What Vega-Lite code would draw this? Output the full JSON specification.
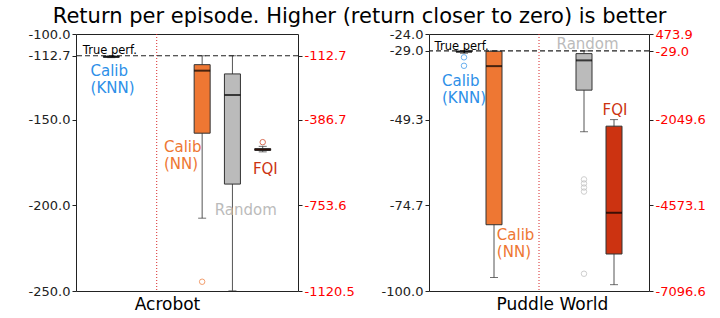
{
  "$schema": "https://vega.github.io/schema/vega-lite/v6.json",
  "padding": {"left": 27, "top": 5, "right": 5, "bottom": 0},
  "config": {"font": "DejaVu Sans", "view": {"stroke": "#222", "strokeWidth": 1}},
  "title": {"text": "Return per episode. Higher (return closer to zero) is better", "fontSize": 21, "fontWeight": "normal", "color": "#000", "anchor": "middle", "offset": 1, "dx": -7},
  "datasets": {
    "boxes": [
      {"env": "Acrobot", "side": "left", "method": "Calib (KNN)", "pos": 1, "lo": -113.8, "q1": -113.5, "med": -113.3, "q3": -113.0, "hi": -112.8},
      {"env": "Acrobot", "side": "left", "method": "Calib (NN)", "pos": 4, "lo": -207.5, "q1": -157.9, "med": -121.4, "q3": -117.9, "hi": -112.7},
      {"env": "Acrobot", "side": "left", "method": "Random", "pos": 5, "lo": -249.9, "q1": -187.6, "med": -135.6, "q3": -123.3, "hi": -112.7},
      {"env": "Acrobot", "side": "right", "method": "FQI", "pos": 6, "lo": -524.4, "q1": -518.0, "med": -514.5, "q3": -510.7, "hi": -500.8},
      {"env": "Puddle World", "side": "left", "method": "Calib (KNN)", "pos": 1, "lo": -29.7, "q1": -29.3, "med": -29.2, "q3": -29.1, "hi": -29.0},
      {"env": "Puddle World", "side": "left", "method": "Calib (NN)", "pos": 2, "lo": -96.0, "q1": -80.4, "med": -33.5, "q3": -29.1, "hi": -29.0},
      {"env": "Puddle World", "side": "left", "method": "Random", "pos": 5, "lo": -52.9, "q1": -40.6, "med": -31.8, "q3": -29.8, "hi": -29.0},
      {"env": "Puddle World", "side": "right", "method": "FQI", "pos": 6, "lo": -6910, "q1": -6007, "med": -4792, "q3": -2241, "hi": -2047.5}
    ],
    "outliers": [
      {"env": "Acrobot", "side": "left", "method": "Calib (NN)", "pos": 4, "v": -244.6},
      {"env": "Acrobot", "side": "right", "method": "FQI", "pos": 6, "v": -482.9},
      {"env": "Puddle World", "side": "left", "method": "Calib (KNN)", "pos": 1, "v": -30.9},
      {"env": "Puddle World", "side": "left", "method": "Calib (KNN)", "pos": 1, "v": -33.4},
      {"env": "Puddle World", "side": "left", "method": "Random", "pos": 5, "v": -67.0},
      {"env": "Puddle World", "side": "left", "method": "Random", "pos": 5, "v": -68.2},
      {"env": "Puddle World", "side": "left", "method": "Random", "pos": 5, "v": -69.4},
      {"env": "Puddle World", "side": "left", "method": "Random", "pos": 5, "v": -70.6},
      {"env": "Puddle World", "side": "left", "method": "Random", "pos": 5, "v": -94.9}
    ],
    "labels": [
      {"env": "Acrobot", "method": "Calib (KNN)", "pos": 0.315, "v": -124.7, "t": ["Calib", "(KNN)"]},
      {"env": "Acrobot", "method": "Calib (NN)", "pos": 2.74, "v": -168.6, "t": ["Calib", "(NN)"]},
      {"env": "Acrobot", "method": "Random", "pos": 4.415, "v": -205.9, "t": ["Random"]},
      {"env": "Acrobot", "method": "FQI", "pos": 5.676, "v": -181.6, "t": ["FQI"]},
      {"env": "Puddle World", "method": "Calib (KNN)", "pos": 0.267, "v": -39.27, "t": ["Calib", "(KNN)"]},
      {"env": "Puddle World", "method": "Calib (NN)", "pos": 2.095, "v": -84.84, "t": ["Calib", "(NN)"]},
      {"env": "Puddle World", "method": "Random", "pos": 4.085, "v": -28.43, "t": ["Random"]},
      {"env": "Puddle World", "method": "FQI", "pos": 5.62, "v": -47.83, "t": ["FQI"]}
    ],
    "refs": [
      {"env": "Acrobot", "truth": -112.7, "tx": 0.06, "ty": -111.7, "div": 2.5, "label": "True perf."},
      {"env": "Puddle World", "truth": -29.0, "tx": 0.02, "ty": -28.75, "div": 3.5, "label": "True perf."}
    ]
  },
  "hconcat": [
    {
      "width": 222, "height": 257,
      "resolve": {"scale": {"y": "independent"}},
      "layer": [
        {"layer": [
          {"data": {"name": "refs"}, "transform": [{"filter": "datum.env === 'Acrobot'"}],
           "mark": {"type": "rule", "color": "#d62728", "strokeDash": [1, 2], "strokeWidth": 1},
           "encoding": {"x": {"field": "div", "type": "quantitative", "scale": {"domain": [0, 7], "nice": false, "zero": false}, "axis": {"values": [2.84], "labelExpr": "'Acrobot'", "ticks": false, "domain": false, "grid": false, "title": null, "labelFontSize": 17, "labelColor": "#000", "labelPadding": 5, "labelFlush": false}}}},
          {"data": {"name": "boxes"}, "transform": [{"filter": "datum.env === 'Acrobot' && datum.side === 'left'"}],
           "mark": {"type": "rule", "color": "#555", "strokeWidth": 1},
           "encoding": {
             "x": {"field": "pos", "type": "quantitative", "scale": {"domain": [0, 7], "nice": false, "zero": false}, "axis": {"values": [2.84], "labelExpr": "'Acrobot'", "ticks": false, "domain": false, "grid": false, "title": null, "labelFontSize": 17, "labelColor": "#000", "labelPadding": 5, "labelFlush": false}},
             "y": {"field": "lo", "type": "quantitative", "scale": {"domain": [-250, -100], "nice": false, "zero": false}, "axis": {"orient": "left", "values": [-100, -112.7, -150, -200, -250], "labelExpr": "(datum.value < 0 ? '-' : '') + format(abs(datum.value), '.1f')", "title": null, "grid": false, "labelFontSize": 13, "labelColor": "#222", "tickColor": "#222", "tickSize": 4, "domain": false, "labelOverlap": false}},
             "y2": {"field": "hi"}}},
          {"data": {"name": "boxes"}, "transform": [{"filter": "datum.env === 'Acrobot' && datum.side === 'left'"}],
           "mark": {"type": "bar", "size": 16, "stroke": "#333", "strokeWidth": 1},
           "encoding": {
             "x": {"field": "pos", "type": "quantitative", "scale": {"domain": [0, 7], "nice": false, "zero": false}, "axis": {"values": [2.84], "labelExpr": "'Acrobot'", "ticks": false, "domain": false, "grid": false, "title": null, "labelFontSize": 17, "labelColor": "#000", "labelPadding": 5, "labelFlush": false}},
             "y": {"field": "q1", "type": "quantitative", "scale": {"domain": [-250, -100], "nice": false, "zero": false}, "axis": {"orient": "left", "values": [-100, -112.7, -150, -200, -250], "labelExpr": "(datum.value < 0 ? '-' : '') + format(abs(datum.value), '.1f')", "title": null, "grid": false, "labelFontSize": 13, "labelColor": "#222", "tickColor": "#222", "tickSize": 4, "domain": false, "labelOverlap": false}},
             "y2": {"field": "q3"},
             "fill": {"field": "method", "type": "nominal", "scale": {"domain": ["Calib (KNN)", "Calib (NN)", "Random", "FQI"], "range": ["#2D8FE8", "#EE7733", "#BBBBBB", "#CC3311"]}, "legend": null}}},
          {"data": {"name": "boxes"}, "transform": [{"filter": "datum.env === 'Acrobot' && datum.side === 'left'"}],
           "mark": {"type": "tick", "orient": "horizontal", "size": 8, "thickness": 1, "color": "#333"},
           "encoding": {
             "x": {"field": "pos", "type": "quantitative", "scale": {"domain": [0, 7], "nice": false, "zero": false}, "axis": {"values": [2.84], "labelExpr": "'Acrobot'", "ticks": false, "domain": false, "grid": false, "title": null, "labelFontSize": 17, "labelColor": "#000", "labelPadding": 5, "labelFlush": false}},
             "y": {"field": "lo", "type": "quantitative", "scale": {"domain": [-250, -100], "nice": false, "zero": false}, "axis": {"orient": "left", "values": [-100, -112.7, -150, -200, -250], "labelExpr": "(datum.value < 0 ? '-' : '') + format(abs(datum.value), '.1f')", "title": null, "grid": false, "labelFontSize": 13, "labelColor": "#222", "tickColor": "#222", "tickSize": 4, "domain": false, "labelOverlap": false}}}},
          {"data": {"name": "boxes"}, "transform": [{"filter": "datum.env === 'Acrobot' && datum.side === 'left'"}],
           "mark": {"type": "tick", "orient": "horizontal", "size": 8, "thickness": 1, "color": "#333"},
           "encoding": {
             "x": {"field": "pos", "type": "quantitative", "scale": {"domain": [0, 7], "nice": false, "zero": false}, "axis": {"values": [2.84], "labelExpr": "'Acrobot'", "ticks": false, "domain": false, "grid": false, "title": null, "labelFontSize": 17, "labelColor": "#000", "labelPadding": 5, "labelFlush": false}},
             "y": {"field": "hi", "type": "quantitative", "scale": {"domain": [-250, -100], "nice": false, "zero": false}, "axis": {"orient": "left", "values": [-100, -112.7, -150, -200, -250], "labelExpr": "(datum.value < 0 ? '-' : '') + format(abs(datum.value), '.1f')", "title": null, "grid": false, "labelFontSize": 13, "labelColor": "#222", "tickColor": "#222", "tickSize": 4, "domain": false, "labelOverlap": false}}}},
          {"data": {"name": "boxes"}, "transform": [{"filter": "datum.env === 'Acrobot' && datum.side === 'left'"}],
           "mark": {"type": "tick", "orient": "horizontal", "size": 16, "thickness": 2, "color": "#000"},
           "encoding": {
             "x": {"field": "pos", "type": "quantitative", "scale": {"domain": [0, 7], "nice": false, "zero": false}, "axis": {"values": [2.84], "labelExpr": "'Acrobot'", "ticks": false, "domain": false, "grid": false, "title": null, "labelFontSize": 17, "labelColor": "#000", "labelPadding": 5, "labelFlush": false}},
             "y": {"field": "med", "type": "quantitative", "scale": {"domain": [-250, -100], "nice": false, "zero": false}, "axis": {"orient": "left", "values": [-100, -112.7, -150, -200, -250], "labelExpr": "(datum.value < 0 ? '-' : '') + format(abs(datum.value), '.1f')", "title": null, "grid": false, "labelFontSize": 13, "labelColor": "#222", "tickColor": "#222", "tickSize": 4, "domain": false, "labelOverlap": false}}}},
          {"data": {"name": "outliers"}, "transform": [{"filter": "datum.env === 'Acrobot' && datum.side === 'left'"}],
           "mark": {"type": "point", "filled": false, "size": 30, "strokeWidth": 1},
           "encoding": {
             "x": {"field": "pos", "type": "quantitative", "scale": {"domain": [0, 7], "nice": false, "zero": false}, "axis": {"values": [2.84], "labelExpr": "'Acrobot'", "ticks": false, "domain": false, "grid": false, "title": null, "labelFontSize": 17, "labelColor": "#000", "labelPadding": 5, "labelFlush": false}},
             "y": {"field": "v", "type": "quantitative", "scale": {"domain": [-250, -100], "nice": false, "zero": false}, "axis": {"orient": "left", "values": [-100, -112.7, -150, -200, -250], "labelExpr": "(datum.value < 0 ? '-' : '') + format(abs(datum.value), '.1f')", "title": null, "grid": false, "labelFontSize": 13, "labelColor": "#222", "tickColor": "#222", "tickSize": 4, "domain": false, "labelOverlap": false}},
             "stroke": {"field": "method", "type": "nominal", "scale": {"domain": ["Calib (KNN)", "Calib (NN)", "Random", "FQI"], "range": ["#2D8FE8", "#EE7733", "#BBBBBB", "#CC3311"]}, "legend": null}}},
          {"data": {"name": "refs"}, "transform": [{"filter": "datum.env === 'Acrobot'"}],
           "mark": {"type": "rule", "color": "#222", "strokeDash": [5, 3], "strokeWidth": 1.2},
           "encoding": {"y": {"field": "truth", "type": "quantitative", "scale": {"domain": [-250, -100], "nice": false, "zero": false}, "axis": {"orient": "left", "values": [-100, -112.7, -150, -200, -250], "labelExpr": "(datum.value < 0 ? '-' : '') + format(abs(datum.value), '.1f')", "title": null, "grid": false, "labelFontSize": 13, "labelColor": "#222", "tickColor": "#222", "tickSize": 4, "domain": false, "labelOverlap": false}}}},
          {"data": {"name": "refs"}, "transform": [{"filter": "datum.env === 'Acrobot'"}],
           "mark": {"type": "text", "align": "left", "baseline": "alphabetic", "fontSize": 11.5, "color": "#000"},
           "encoding": {
             "x": {"field": "tx", "type": "quantitative", "scale": {"domain": [0, 7], "nice": false, "zero": false}, "axis": {"values": [2.84], "labelExpr": "'Acrobot'", "ticks": false, "domain": false, "grid": false, "title": null, "labelFontSize": 17, "labelColor": "#000", "labelPadding": 5, "labelFlush": false}},
             "y": {"field": "ty", "type": "quantitative", "scale": {"domain": [-250, -100], "nice": false, "zero": false}, "axis": {"orient": "left", "values": [-100, -112.7, -150, -200, -250], "labelExpr": "(datum.value < 0 ? '-' : '') + format(abs(datum.value), '.1f')", "title": null, "grid": false, "labelFontSize": 13, "labelColor": "#222", "tickColor": "#222", "tickSize": 4, "domain": false, "labelOverlap": false}},
             "text": {"field": "label"}}},
          {"data": {"name": "labels"}, "transform": [{"filter": "datum.env === 'Acrobot'"}],
           "mark": {"type": "text", "align": "left", "baseline": "alphabetic", "fontSize": 15, "lineHeight": 17},
           "encoding": {
             "x": {"field": "pos", "type": "quantitative", "scale": {"domain": [0, 7], "nice": false, "zero": false}, "axis": {"values": [2.84], "labelExpr": "'Acrobot'", "ticks": false, "domain": false, "grid": false, "title": null, "labelFontSize": 17, "labelColor": "#000", "labelPadding": 5, "labelFlush": false}},
             "y": {"field": "v", "type": "quantitative", "scale": {"domain": [-250, -100], "nice": false, "zero": false}, "axis": {"orient": "left", "values": [-100, -112.7, -150, -200, -250], "labelExpr": "(datum.value < 0 ? '-' : '') + format(abs(datum.value), '.1f')", "title": null, "grid": false, "labelFontSize": 13, "labelColor": "#222", "tickColor": "#222", "tickSize": 4, "domain": false, "labelOverlap": false}},
             "text": {"field": "t"},
             "color": {"field": "method", "type": "nominal", "scale": {"domain": ["Calib (KNN)", "Calib (NN)", "Random", "FQI"], "range": ["#2D8FE8", "#EE7733", "#BBBBBB", "#CC3311"]}, "legend": null}}}
        ]},
        {"layer": [
          {"data": {"name": "boxes"}, "transform": [{"filter": "datum.env === 'Acrobot' && datum.side === 'right'"}],
           "mark": {"type": "rule", "color": "#555", "strokeWidth": 1},
           "encoding": {
             "x": {"field": "pos", "type": "quantitative", "scale": {"domain": [0, 7], "nice": false, "zero": false}, "axis": {"values": [2.84], "labelExpr": "'Acrobot'", "ticks": false, "domain": false, "grid": false, "title": null, "labelFontSize": 17, "labelColor": "#000", "labelPadding": 5, "labelFlush": false}},
             "y": {"field": "lo", "type": "quantitative", "scale": {"domain": [-1120.5, -19.5], "nice": false, "zero": false}, "axis": {"orient": "right", "values": [-112.7, -386.7, -753.6, -1120.5], "labelExpr": "(datum.value < 0 ? '-' : '') + format(abs(datum.value), '.1f')", "title": null, "grid": false, "labelFontSize": 13, "labelColor": "#FF0000", "tickColor": "#222", "tickSize": 4, "domain": false, "labelOverlap": false}},
             "y2": {"field": "hi"}}},
          {"data": {"name": "boxes"}, "transform": [{"filter": "datum.env === 'Acrobot' && datum.side === 'right'"}],
           "mark": {"type": "bar", "size": 16, "stroke": "#333", "strokeWidth": 1},
           "encoding": {
             "x": {"field": "pos", "type": "quantitative", "scale": {"domain": [0, 7], "nice": false, "zero": false}, "axis": {"values": [2.84], "labelExpr": "'Acrobot'", "ticks": false, "domain": false, "grid": false, "title": null, "labelFontSize": 17, "labelColor": "#000", "labelPadding": 5, "labelFlush": false}},
             "y": {"field": "q1", "type": "quantitative", "scale": {"domain": [-1120.5, -19.5], "nice": false, "zero": false}, "axis": {"orient": "right", "values": [-112.7, -386.7, -753.6, -1120.5], "labelExpr": "(datum.value < 0 ? '-' : '') + format(abs(datum.value), '.1f')", "title": null, "grid": false, "labelFontSize": 13, "labelColor": "#FF0000", "tickColor": "#222", "tickSize": 4, "domain": false, "labelOverlap": false}},
             "y2": {"field": "q3"},
             "fill": {"field": "method", "type": "nominal", "scale": {"domain": ["Calib (KNN)", "Calib (NN)", "Random", "FQI"], "range": ["#2D8FE8", "#EE7733", "#BBBBBB", "#CC3311"]}, "legend": null}}},
          {"data": {"name": "boxes"}, "transform": [{"filter": "datum.env === 'Acrobot' && datum.side === 'right'"}],
           "mark": {"type": "tick", "orient": "horizontal", "size": 8, "thickness": 1, "color": "#333"},
           "encoding": {
             "x": {"field": "pos", "type": "quantitative", "scale": {"domain": [0, 7], "nice": false, "zero": false}, "axis": {"values": [2.84], "labelExpr": "'Acrobot'", "ticks": false, "domain": false, "grid": false, "title": null, "labelFontSize": 17, "labelColor": "#000", "labelPadding": 5, "labelFlush": false}},
             "y": {"field": "lo", "type": "quantitative", "scale": {"domain": [-1120.5, -19.5], "nice": false, "zero": false}, "axis": {"orient": "right", "values": [-112.7, -386.7, -753.6, -1120.5], "labelExpr": "(datum.value < 0 ? '-' : '') + format(abs(datum.value), '.1f')", "title": null, "grid": false, "labelFontSize": 13, "labelColor": "#FF0000", "tickColor": "#222", "tickSize": 4, "domain": false, "labelOverlap": false}}}},
          {"data": {"name": "boxes"}, "transform": [{"filter": "datum.env === 'Acrobot' && datum.side === 'right'"}],
           "mark": {"type": "tick", "orient": "horizontal", "size": 8, "thickness": 1, "color": "#333"},
           "encoding": {
             "x": {"field": "pos", "type": "quantitative", "scale": {"domain": [0, 7], "nice": false, "zero": false}, "axis": {"values": [2.84], "labelExpr": "'Acrobot'", "ticks": false, "domain": false, "grid": false, "title": null, "labelFontSize": 17, "labelColor": "#000", "labelPadding": 5, "labelFlush": false}},
             "y": {"field": "hi", "type": "quantitative", "scale": {"domain": [-1120.5, -19.5], "nice": false, "zero": false}, "axis": {"orient": "right", "values": [-112.7, -386.7, -753.6, -1120.5], "labelExpr": "(datum.value < 0 ? '-' : '') + format(abs(datum.value), '.1f')", "title": null, "grid": false, "labelFontSize": 13, "labelColor": "#FF0000", "tickColor": "#222", "tickSize": 4, "domain": false, "labelOverlap": false}}}},
          {"data": {"name": "boxes"}, "transform": [{"filter": "datum.env === 'Acrobot' && datum.side === 'right'"}],
           "mark": {"type": "tick", "orient": "horizontal", "size": 16, "thickness": 2, "color": "#000"},
           "encoding": {
             "x": {"field": "pos", "type": "quantitative", "scale": {"domain": [0, 7], "nice": false, "zero": false}, "axis": {"values": [2.84], "labelExpr": "'Acrobot'", "ticks": false, "domain": false, "grid": false, "title": null, "labelFontSize": 17, "labelColor": "#000", "labelPadding": 5, "labelFlush": false}},
             "y": {"field": "med", "type": "quantitative", "scale": {"domain": [-1120.5, -19.5], "nice": false, "zero": false}, "axis": {"orient": "right", "values": [-112.7, -386.7, -753.6, -1120.5], "labelExpr": "(datum.value < 0 ? '-' : '') + format(abs(datum.value), '.1f')", "title": null, "grid": false, "labelFontSize": 13, "labelColor": "#FF0000", "tickColor": "#222", "tickSize": 4, "domain": false, "labelOverlap": false}}}},
          {"data": {"name": "outliers"}, "transform": [{"filter": "datum.env === 'Acrobot' && datum.side === 'right'"}],
           "mark": {"type": "point", "filled": false, "size": 30, "strokeWidth": 1},
           "encoding": {
             "x": {"field": "pos", "type": "quantitative", "scale": {"domain": [0, 7], "nice": false, "zero": false}, "axis": {"values": [2.84], "labelExpr": "'Acrobot'", "ticks": false, "domain": false, "grid": false, "title": null, "labelFontSize": 17, "labelColor": "#000", "labelPadding": 5, "labelFlush": false}},
             "y": {"field": "v", "type": "quantitative", "scale": {"domain": [-1120.5, -19.5], "nice": false, "zero": false}, "axis": {"orient": "right", "values": [-112.7, -386.7, -753.6, -1120.5], "labelExpr": "(datum.value < 0 ? '-' : '') + format(abs(datum.value), '.1f')", "title": null, "grid": false, "labelFontSize": 13, "labelColor": "#FF0000", "tickColor": "#222", "tickSize": 4, "domain": false, "labelOverlap": false}},
             "stroke": {"field": "method", "type": "nominal", "scale": {"domain": ["Calib (KNN)", "Calib (NN)", "Random", "FQI"], "range": ["#2D8FE8", "#EE7733", "#BBBBBB", "#CC3311"]}, "legend": null}}}
        ]}
      ]
    },
    {
      "width": 220, "height": 257,
      "resolve": {"scale": {"y": "independent"}},
      "layer": [
        {"layer": [
          {"data": {"name": "refs"}, "transform": [{"filter": "datum.env === 'Puddle World'"}],
           "mark": {"type": "rule", "color": "#d62728", "strokeDash": [1, 2], "strokeWidth": 1},
           "encoding": {"x": {"field": "div", "type": "quantitative", "scale": {"domain": [0, 7], "nice": false, "zero": false}, "axis": {"values": [3.93], "labelExpr": "'Puddle World'", "ticks": false, "domain": false, "grid": false, "title": null, "labelFontSize": 17, "labelColor": "#000", "labelPadding": 5, "labelFlush": false}}}},
          {"data": {"name": "boxes"}, "transform": [{"filter": "datum.env === 'Puddle World' && datum.side === 'left'"}],
           "mark": {"type": "rule", "color": "#555", "strokeWidth": 1},
           "encoding": {
             "x": {"field": "pos", "type": "quantitative", "scale": {"domain": [0, 7], "nice": false, "zero": false}, "axis": {"values": [3.93], "labelExpr": "'Puddle World'", "ticks": false, "domain": false, "grid": false, "title": null, "labelFontSize": 17, "labelColor": "#000", "labelPadding": 5, "labelFlush": false}},
             "y": {"field": "lo", "type": "quantitative", "scale": {"domain": [-100, -24], "nice": false, "zero": false}, "axis": {"orient": "left", "values": [-24, -29, -49.3, -74.7, -100], "labelExpr": "(datum.value < 0 ? '-' : '') + format(abs(datum.value), '.1f')", "title": null, "grid": false, "labelFontSize": 13, "labelColor": "#222", "tickColor": "#222", "tickSize": 4, "domain": false, "labelOverlap": false}},
             "y2": {"field": "hi"}}},
          {"data": {"name": "boxes"}, "transform": [{"filter": "datum.env === 'Puddle World' && datum.side === 'left'"}],
           "mark": {"type": "bar", "size": 16, "stroke": "#333", "strokeWidth": 1},
           "encoding": {
             "x": {"field": "pos", "type": "quantitative", "scale": {"domain": [0, 7], "nice": false, "zero": false}, "axis": {"values": [3.93], "labelExpr": "'Puddle World'", "ticks": false, "domain": false, "grid": false, "title": null, "labelFontSize": 17, "labelColor": "#000", "labelPadding": 5, "labelFlush": false}},
             "y": {"field": "q1", "type": "quantitative", "scale": {"domain": [-100, -24], "nice": false, "zero": false}, "axis": {"orient": "left", "values": [-24, -29, -49.3, -74.7, -100], "labelExpr": "(datum.value < 0 ? '-' : '') + format(abs(datum.value), '.1f')", "title": null, "grid": false, "labelFontSize": 13, "labelColor": "#222", "tickColor": "#222", "tickSize": 4, "domain": false, "labelOverlap": false}},
             "y2": {"field": "q3"},
             "fill": {"field": "method", "type": "nominal", "scale": {"domain": ["Calib (KNN)", "Calib (NN)", "Random", "FQI"], "range": ["#2D8FE8", "#EE7733", "#BBBBBB", "#CC3311"]}, "legend": null}}},
          {"data": {"name": "boxes"}, "transform": [{"filter": "datum.env === 'Puddle World' && datum.side === 'left'"}],
           "mark": {"type": "tick", "orient": "horizontal", "size": 8, "thickness": 1, "color": "#333"},
           "encoding": {
             "x": {"field": "pos", "type": "quantitative", "scale": {"domain": [0, 7], "nice": false, "zero": false}, "axis": {"values": [3.93], "labelExpr": "'Puddle World'", "ticks": false, "domain": false, "grid": false, "title": null, "labelFontSize": 17, "labelColor": "#000", "labelPadding": 5, "labelFlush": false}},
             "y": {"field": "lo", "type": "quantitative", "scale": {"domain": [-100, -24], "nice": false, "zero": false}, "axis": {"orient": "left", "values": [-24, -29, -49.3, -74.7, -100], "labelExpr": "(datum.value < 0 ? '-' : '') + format(abs(datum.value), '.1f')", "title": null, "grid": false, "labelFontSize": 13, "labelColor": "#222", "tickColor": "#222", "tickSize": 4, "domain": false, "labelOverlap": false}}}},
          {"data": {"name": "boxes"}, "transform": [{"filter": "datum.env === 'Puddle World' && datum.side === 'left'"}],
           "mark": {"type": "tick", "orient": "horizontal", "size": 8, "thickness": 1, "color": "#333"},
           "encoding": {
             "x": {"field": "pos", "type": "quantitative", "scale": {"domain": [0, 7], "nice": false, "zero": false}, "axis": {"values": [3.93], "labelExpr": "'Puddle World'", "ticks": false, "domain": false, "grid": false, "title": null, "labelFontSize": 17, "labelColor": "#000", "labelPadding": 5, "labelFlush": false}},
             "y": {"field": "hi", "type": "quantitative", "scale": {"domain": [-100, -24], "nice": false, "zero": false}, "axis": {"orient": "left", "values": [-24, -29, -49.3, -74.7, -100], "labelExpr": "(datum.value < 0 ? '-' : '') + format(abs(datum.value), '.1f')", "title": null, "grid": false, "labelFontSize": 13, "labelColor": "#222", "tickColor": "#222", "tickSize": 4, "domain": false, "labelOverlap": false}}}},
          {"data": {"name": "boxes"}, "transform": [{"filter": "datum.env === 'Puddle World' && datum.side === 'left'"}],
           "mark": {"type": "tick", "orient": "horizontal", "size": 16, "thickness": 2, "color": "#000"},
           "encoding": {
             "x": {"field": "pos", "type": "quantitative", "scale": {"domain": [0, 7], "nice": false, "zero": false}, "axis": {"values": [3.93], "labelExpr": "'Puddle World'", "ticks": false, "domain": false, "grid": false, "title": null, "labelFontSize": 17, "labelColor": "#000", "labelPadding": 5, "labelFlush": false}},
             "y": {"field": "med", "type": "quantitative", "scale": {"domain": [-100, -24], "nice": false, "zero": false}, "axis": {"orient": "left", "values": [-24, -29, -49.3, -74.7, -100], "labelExpr": "(datum.value < 0 ? '-' : '') + format(abs(datum.value), '.1f')", "title": null, "grid": false, "labelFontSize": 13, "labelColor": "#222", "tickColor": "#222", "tickSize": 4, "domain": false, "labelOverlap": false}}}},
          {"data": {"name": "outliers"}, "transform": [{"filter": "datum.env === 'Puddle World' && datum.side === 'left'"}],
           "mark": {"type": "point", "filled": false, "size": 30, "strokeWidth": 1},
           "encoding": {
             "x": {"field": "pos", "type": "quantitative", "scale": {"domain": [0, 7], "nice": false, "zero": false}, "axis": {"values": [3.93], "labelExpr": "'Puddle World'", "ticks": false, "domain": false, "grid": false, "title": null, "labelFontSize": 17, "labelColor": "#000", "labelPadding": 5, "labelFlush": false}},
             "y": {"field": "v", "type": "quantitative", "scale": {"domain": [-100, -24], "nice": false, "zero": false}, "axis": {"orient": "left", "values": [-24, -29, -49.3, -74.7, -100], "labelExpr": "(datum.value < 0 ? '-' : '') + format(abs(datum.value), '.1f')", "title": null, "grid": false, "labelFontSize": 13, "labelColor": "#222", "tickColor": "#222", "tickSize": 4, "domain": false, "labelOverlap": false}},
             "stroke": {"field": "method", "type": "nominal", "scale": {"domain": ["Calib (KNN)", "Calib (NN)", "Random", "FQI"], "range": ["#2D8FE8", "#EE7733", "#BBBBBB", "#CC3311"]}, "legend": null}}},
          {"data": {"name": "refs"}, "transform": [{"filter": "datum.env === 'Puddle World'"}],
           "mark": {"type": "rule", "color": "#222", "strokeDash": [5, 3], "strokeWidth": 1.2},
           "encoding": {"y": {"field": "truth", "type": "quantitative", "scale": {"domain": [-100, -24], "nice": false, "zero": false}, "axis": {"orient": "left", "values": [-24, -29, -49.3, -74.7, -100], "labelExpr": "(datum.value < 0 ? '-' : '') + format(abs(datum.value), '.1f')", "title": null, "grid": false, "labelFontSize": 13, "labelColor": "#222", "tickColor": "#222", "tickSize": 4, "domain": false, "labelOverlap": false}}}},
          {"data": {"name": "refs"}, "transform": [{"filter": "datum.env === 'Puddle World'"}],
           "mark": {"type": "text", "align": "left", "baseline": "alphabetic", "fontSize": 11.5, "color": "#000"},
           "encoding": {
             "x": {"field": "tx", "type": "quantitative", "scale": {"domain": [0, 7], "nice": false, "zero": false}, "axis": {"values": [3.93], "labelExpr": "'Puddle World'", "ticks": false, "domain": false, "grid": false, "title": null, "labelFontSize": 17, "labelColor": "#000", "labelPadding": 5, "labelFlush": false}},
             "y": {"field": "ty", "type": "quantitative", "scale": {"domain": [-100, -24], "nice": false, "zero": false}, "axis": {"orient": "left", "values": [-24, -29, -49.3, -74.7, -100], "labelExpr": "(datum.value < 0 ? '-' : '') + format(abs(datum.value), '.1f')", "title": null, "grid": false, "labelFontSize": 13, "labelColor": "#222", "tickColor": "#222", "tickSize": 4, "domain": false, "labelOverlap": false}},
             "text": {"field": "label"}}},
          {"data": {"name": "labels"}, "transform": [{"filter": "datum.env === 'Puddle World'"}],
           "mark": {"type": "text", "align": "left", "baseline": "alphabetic", "fontSize": 15, "lineHeight": 17},
           "encoding": {
             "x": {"field": "pos", "type": "quantitative", "scale": {"domain": [0, 7], "nice": false, "zero": false}, "axis": {"values": [3.93], "labelExpr": "'Puddle World'", "ticks": false, "domain": false, "grid": false, "title": null, "labelFontSize": 17, "labelColor": "#000", "labelPadding": 5, "labelFlush": false}},
             "y": {"field": "v", "type": "quantitative", "scale": {"domain": [-100, -24], "nice": false, "zero": false}, "axis": {"orient": "left", "values": [-24, -29, -49.3, -74.7, -100], "labelExpr": "(datum.value < 0 ? '-' : '') + format(abs(datum.value), '.1f')", "title": null, "grid": false, "labelFontSize": 13, "labelColor": "#222", "tickColor": "#222", "tickSize": 4, "domain": false, "labelOverlap": false}},
             "text": {"field": "t"},
             "color": {"field": "method", "type": "nominal", "scale": {"domain": ["Calib (KNN)", "Calib (NN)", "Random", "FQI"], "range": ["#2D8FE8", "#EE7733", "#BBBBBB", "#CC3311"]}, "legend": null}}}
        ]},
        {"layer": [
          {"data": {"name": "boxes"}, "transform": [{"filter": "datum.env === 'Puddle World' && datum.side === 'right'"}],
           "mark": {"type": "rule", "color": "#555", "strokeWidth": 1},
           "encoding": {
             "x": {"field": "pos", "type": "quantitative", "scale": {"domain": [0, 7], "nice": false, "zero": false}, "axis": {"values": [3.93], "labelExpr": "'Puddle World'", "ticks": false, "domain": false, "grid": false, "title": null, "labelFontSize": 17, "labelColor": "#000", "labelPadding": 5, "labelFlush": false}},
             "y": {"field": "lo", "type": "quantitative", "scale": {"domain": [-7096.6, 473.9], "nice": false, "zero": false}, "axis": {"orient": "right", "values": [473.9, -29, -2049.6, -4573.1, -7096.6], "labelExpr": "(datum.value < 0 ? '-' : '') + format(abs(datum.value), '.1f')", "title": null, "grid": false, "labelFontSize": 13, "labelColor": "#FF0000", "tickColor": "#222", "tickSize": 4, "domain": false, "labelOverlap": false}},
             "y2": {"field": "hi"}}},
          {"data": {"name": "boxes"}, "transform": [{"filter": "datum.env === 'Puddle World' && datum.side === 'right'"}],
           "mark": {"type": "bar", "size": 16, "stroke": "#333", "strokeWidth": 1},
           "encoding": {
             "x": {"field": "pos", "type": "quantitative", "scale": {"domain": [0, 7], "nice": false, "zero": false}, "axis": {"values": [3.93], "labelExpr": "'Puddle World'", "ticks": false, "domain": false, "grid": false, "title": null, "labelFontSize": 17, "labelColor": "#000", "labelPadding": 5, "labelFlush": false}},
             "y": {"field": "q1", "type": "quantitative", "scale": {"domain": [-7096.6, 473.9], "nice": false, "zero": false}, "axis": {"orient": "right", "values": [473.9, -29, -2049.6, -4573.1, -7096.6], "labelExpr": "(datum.value < 0 ? '-' : '') + format(abs(datum.value), '.1f')", "title": null, "grid": false, "labelFontSize": 13, "labelColor": "#FF0000", "tickColor": "#222", "tickSize": 4, "domain": false, "labelOverlap": false}},
             "y2": {"field": "q3"},
             "fill": {"field": "method", "type": "nominal", "scale": {"domain": ["Calib (KNN)", "Calib (NN)", "Random", "FQI"], "range": ["#2D8FE8", "#EE7733", "#BBBBBB", "#CC3311"]}, "legend": null}}},
          {"data": {"name": "boxes"}, "transform": [{"filter": "datum.env === 'Puddle World' && datum.side === 'right'"}],
           "mark": {"type": "tick", "orient": "horizontal", "size": 8, "thickness": 1, "color": "#333"},
           "encoding": {
             "x": {"field": "pos", "type": "quantitative", "scale": {"domain": [0, 7], "nice": false, "zero": false}, "axis": {"values": [3.93], "labelExpr": "'Puddle World'", "ticks": false, "domain": false, "grid": false, "title": null, "labelFontSize": 17, "labelColor": "#000", "labelPadding": 5, "labelFlush": false}},
             "y": {"field": "lo", "type": "quantitative", "scale": {"domain": [-7096.6, 473.9], "nice": false, "zero": false}, "axis": {"orient": "right", "values": [473.9, -29, -2049.6, -4573.1, -7096.6], "labelExpr": "(datum.value < 0 ? '-' : '') + format(abs(datum.value), '.1f')", "title": null, "grid": false, "labelFontSize": 13, "labelColor": "#FF0000", "tickColor": "#222", "tickSize": 4, "domain": false, "labelOverlap": false}}}},
          {"data": {"name": "boxes"}, "transform": [{"filter": "datum.env === 'Puddle World' && datum.side === 'right'"}],
           "mark": {"type": "tick", "orient": "horizontal", "size": 8, "thickness": 1, "color": "#333"},
           "encoding": {
             "x": {"field": "pos", "type": "quantitative", "scale": {"domain": [0, 7], "nice": false, "zero": false}, "axis": {"values": [3.93], "labelExpr": "'Puddle World'", "ticks": false, "domain": false, "grid": false, "title": null, "labelFontSize": 17, "labelColor": "#000", "labelPadding": 5, "labelFlush": false}},
             "y": {"field": "hi", "type": "quantitative", "scale": {"domain": [-7096.6, 473.9], "nice": false, "zero": false}, "axis": {"orient": "right", "values": [473.9, -29, -2049.6, -4573.1, -7096.6], "labelExpr": "(datum.value < 0 ? '-' : '') + format(abs(datum.value), '.1f')", "title": null, "grid": false, "labelFontSize": 13, "labelColor": "#FF0000", "tickColor": "#222", "tickSize": 4, "domain": false, "labelOverlap": false}}}},
          {"data": {"name": "boxes"}, "transform": [{"filter": "datum.env === 'Puddle World' && datum.side === 'right'"}],
           "mark": {"type": "tick", "orient": "horizontal", "size": 16, "thickness": 2, "color": "#000"},
           "encoding": {
             "x": {"field": "pos", "type": "quantitative", "scale": {"domain": [0, 7], "nice": false, "zero": false}, "axis": {"values": [3.93], "labelExpr": "'Puddle World'", "ticks": false, "domain": false, "grid": false, "title": null, "labelFontSize": 17, "labelColor": "#000", "labelPadding": 5, "labelFlush": false}},
             "y": {"field": "med", "type": "quantitative", "scale": {"domain": [-7096.6, 473.9], "nice": false, "zero": false}, "axis": {"orient": "right", "values": [473.9, -29, -2049.6, -4573.1, -7096.6], "labelExpr": "(datum.value < 0 ? '-' : '') + format(abs(datum.value), '.1f')", "title": null, "grid": false, "labelFontSize": 13, "labelColor": "#FF0000", "tickColor": "#222", "tickSize": 4, "domain": false, "labelOverlap": false}}}}
        ]}
      ]
    }
  ],
  "spacing": 131,
  "bounds": "flush"
}
